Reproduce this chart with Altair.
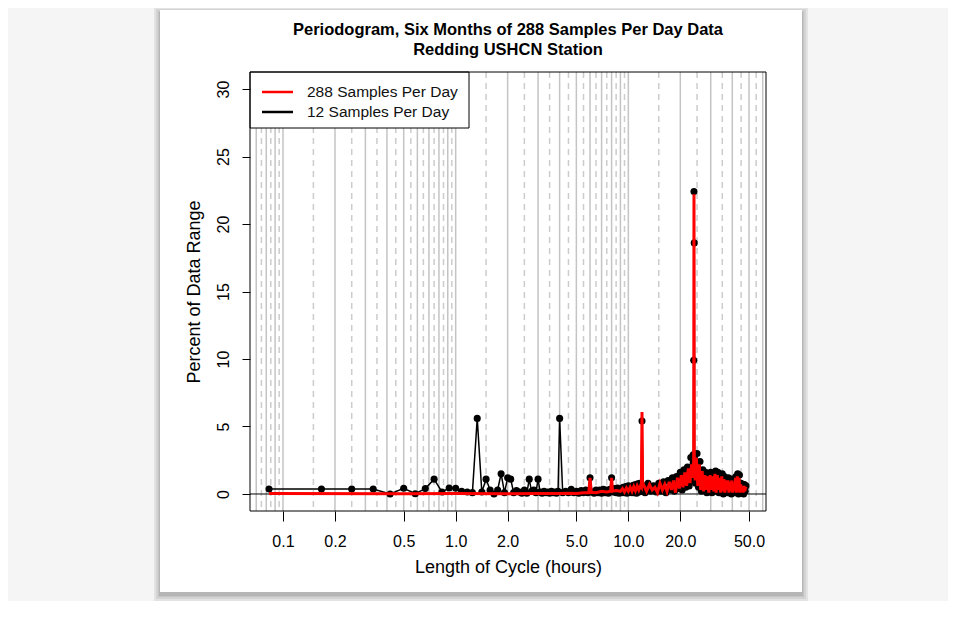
import altair as alt
import pandas as pd

# ---- data ----
series_names = ["288 Samples Per Day", "12 Samples Per Day"]
series_colors = ["#ff0000", "#000000"]

# black series: "12 Samples Per Day" (period in hours, percent of data range)
black_period = [
    0.083, 0.167, 0.25, 0.333, 0.417, 0.5, 0.583, 0.667, 0.75, 0.833, 0.917, 1.0,
    1.083, 1.167, 1.25, 1.333, 1.417, 1.5, 1.583, 1.667, 1.75, 1.833, 1.917, 2.0,
    2.083, 2.167, 2.25, 2.333, 2.417, 2.5, 2.583, 2.667, 2.75, 2.833, 2.917, 3.0,
    3.083, 3.167, 3.25, 3.333, 3.417, 3.5, 3.583, 3.667, 3.75, 3.833, 3.917, 4.0,
    4.167, 4.333, 4.5, 4.667, 4.833, 5.0, 5.167, 5.333, 5.5, 5.667, 5.833, 6.0,
    6.167, 6.333, 6.5, 6.667, 6.833, 7.0, 7.167, 7.333, 7.5, 7.667, 7.833, 8.0,
    8.167, 8.333, 8.5, 8.667, 8.833, 9.0, 9.167, 9.333, 9.5, 9.667, 9.833, 10.0,
    10.167, 10.333, 10.5, 10.667, 10.833, 11.0, 11.167, 11.333, 11.5, 11.667, 11.833, 12.0,
    12.167, 12.5, 13.0, 13.5, 14.0, 14.5, 15.0, 15.5, 16.0, 16.5, 17.0, 17.5,
    18.0, 18.5, 19.0, 19.5, 20.0, 20.5, 21.0, 21.5, 22.0, 22.5, 23.0, 23.5,
    23.75, 23.833, 23.917, 24.0, 24.083, 24.167, 24.25, 24.5, 25.0, 25.5, 26.0, 26.5,
    27.0, 27.5, 28.0, 28.5, 29.0, 29.5, 30.0, 30.5, 31.0, 31.5, 32.0, 32.5,
    33.0, 33.5, 34.0, 34.5, 35.0, 35.5, 36.0, 36.5, 37.0, 37.5, 38.0, 38.5,
    39.0, 39.5, 40.0, 40.5, 41.0, 41.5, 42.0, 42.5, 43.0, 43.5, 44.0, 44.5,
    45.0, 45.5, 46.0, 46.5, 47.0, 47.5, 48.0,
]
black_value = [
    0.37, 0.37, 0.37, 0.37, 0.0, 0.42, 0.02, 0.4, 1.1, 0.15, 0.45, 0.42,
    0.2, 0.15, 0.1, 5.6, 0.15, 1.1, 0.3, 0.0, 0.3, 1.5, 0.1, 1.2,
    1.1, 0.1, 0.25, 0.15, 0.05, 0.3, 0.05, 1.1, 0.2, 0.3, 0.1, 1.1,
    0.15, 0.05, 0.2, 0.1, 0.15, 0.05, 0.2, 0.1, 0.15, 0.05, 0.2, 5.6,
    0.1, 0.2, 0.1, 0.35, 0.1, 0.2, 0.05, 0.25, 0.1, 0.3, 0.1, 1.2,
    0.15, 0.05, 0.3, 0.1, 0.3, 0.05, 0.35, 0.1, 0.3, 0.05, 0.35, 1.2,
    0.15, 0.4, 0.1, 0.45, 0.05, 0.4, 0.1, 0.5, 0.1, 0.55, 0.05, 0.6,
    0.15, 0.55, 0.1, 0.65, 0.1, 0.7, 0.05, 0.75, 0.15, 0.8, 0.2, 5.4,
    0.6, 0.1, 0.8, 0.2, 0.6, 0.15, 0.8, 0.2, 0.9, 0.1, 1.0, 0.3,
    1.2, 0.2, 1.3, 0.4, 1.6, 0.3, 1.8, 0.5, 2.0, 0.6, 2.7, 1.0,
    2.9, 2.5, 9.9, 22.4, 18.6, 2.9, 2.0, 0.8, 3.0, 0.5, 2.4, 0.2,
    1.8, 0.4, 1.6, 0.1, 1.5, 0.3, 1.6, 0.1, 1.5, 0.4, 1.7, 0.2,
    1.6, 0.1, 1.4, 0.3, 1.5, 0.0, 1.3, 0.3, 1.1, 0.1, 1.2, 0.4,
    1.0, 0.0, 1.1, 0.2, 0.9, 0.1, 1.3, 0.3, 1.5, 0.0, 1.4, 0.2,
    0.8, 0.1, 0.6, 0.0, 0.7, 0.2, 0.6,
]

# red series: "288 Samples Per Day"
red_period = [
    0.083, 0.5, 1.0, 2.0, 3.0, 4.0, 4.5, 5.0, 5.5, 5.9, 6.0, 6.1,
    6.5, 7.0, 7.5, 7.9, 8.0, 8.1, 8.5, 9.0, 9.25, 9.5, 9.75, 10.0,
    10.25, 10.5, 10.75, 11.0, 11.25, 11.5, 11.75, 11.9, 12.0, 12.1, 12.25, 12.75,
    13.25, 13.75, 14.25, 14.75, 15.25, 15.75, 16.25, 16.75, 17.25, 17.75, 18.25, 18.75,
    19.25, 19.75, 20.25, 20.75, 21.25, 21.75, 22.25, 22.75, 23.25, 23.6, 23.9, 24.0,
    24.1, 24.4, 24.75, 25.25, 25.75, 26.25, 26.75, 27.25, 27.75, 28.25, 28.75, 29.25,
    29.75, 30.25, 30.75, 31.25, 31.75, 32.25, 32.75, 33.25, 33.75, 34.25, 34.75, 35.25,
    35.75, 36.25, 36.75, 37.25, 37.75, 38.25, 38.75, 39.25, 39.75, 40.25, 40.75, 41.25,
    41.75, 42.25, 42.75, 43.25, 43.75, 44.25, 44.75, 45.25, 45.75, 46.25, 46.75, 47.25,
    47.75, 48.0,
]
red_value = [
    0.03, 0.02, 0.03, 0.02, 0.04, 0.03, 0.05, 0.04, 0.1, 0.1, 1.2, 0.12,
    0.1, 0.2, 0.15, 0.2, 1.2, 0.2, 0.25, 0.2, 0.4, 0.15, 0.45, 0.2,
    0.5, 0.2, 0.55, 0.25, 0.6, 0.3, 0.6, 0.5, 6.07, 0.5, 0.7, 0.2,
    0.7, 0.3, 0.5, 0.1, 0.8, 0.3, 0.7, 0.2, 0.9, 0.3, 1.0, 0.1,
    1.2, 0.4, 1.4, 0.5, 1.6, 0.6, 1.9, 0.8, 2.2, 1.2, 2.5, 22.2,
    2.6, 1.0, 2.7, 0.6, 2.2, 0.3, 1.7, 0.2, 1.4, 0.3, 1.3, 0.1,
    1.4, 0.3, 1.3, 0.2, 1.5, 0.1, 1.4, 0.3, 1.2, 0.1, 1.3, 0.2,
    1.1, 0.1, 1.0, 0.3, 1.0, 0.1, 0.9, 0.2, 1.0, 0.1, 0.8, 0.3,
    1.2, 0.1, 1.3, 0.2, 1.2, 0.1, 0.7, 0.2, 0.5, 0.1, 0.6, 0.2,
    0.5, 0.4,
]

grid_solid = [0.07, 0.08, 0.09, 0.1, 0.2, 0.3, 0.4, 0.5, 0.6, 0.7, 0.8, 0.9,
              1, 2, 3, 4, 5, 6, 7, 8, 9, 10, 20, 30, 40, 50, 60]
grid_dashed = [0.075, 0.085, 0.095, 0.15, 0.25, 0.35, 0.45, 0.55, 0.65, 0.75, 0.85, 0.95,
               1.5, 2.5, 3.5, 4.5, 5.5, 6.5, 7.5, 8.5, 9.5, 15, 25, 35, 45, 55]
x_ticks = [0.1, 0.2, 0.5, 1, 2, 5, 10, 20, 50]
y_ticks = [0, 5, 10, 15, 20, 25, 30]
title_lines = ["Periodogram, Six Months of 288 Samples Per Day Data", "Redding USHCN Station"]

# ---- tables ----
black_df = pd.DataFrame({"period": black_period, "value": black_value})
red_df = pd.DataFrame({"period": red_period, "value": red_value})
solid_df = pd.DataFrame({"period": grid_solid})
dashed_df = pd.DataFrame({"period": grid_dashed})
one_row = pd.DataFrame({"a": [0]})

FONT = "Liberation Sans"
W, H = 516, 439

xscale = alt.Scale(type="log", domain=[0.0644, 62.7], nice=False)
yscale = alt.Scale(domain=[-1.26, 31.26], nice=False)

x_axis = alt.Axis(values=x_ticks, labelExpr="format(datum.value, '.1f')", title="Length of Cycle (hours)",
                  grid=False, domain=False, tickColor="black", tickSize=10, tickWidth=1,
                  labelFont=FONT, labelFontSize=16, labelColor="black", labelPadding=12,
                  titleFont=FONT, titleFontSize=18, titleFontWeight="normal", titleColor="black",
                  titlePadding=9, labelFlush=False, labelOverlap=False, zindex=2)
y_axis = alt.Axis(values=y_ticks, title="Percent of Data Range", grid=False, domain=False,
                  tickColor="black", tickSize=8, tickWidth=1, labelAngle=-90,
                  labelAlign="center", labelBaseline="bottom",
                  labelFont=FONT, labelFontSize=16, labelColor="black", labelPadding=11,
                  titleFont=FONT, titleFontSize=18, titleFontWeight="normal", titleColor="black",
                  titlePadding=12, labelFlush=False, labelOverlap=False, zindex=2)

X = alt.X("period:Q", scale=xscale, axis=x_axis)
Y = alt.Y("value:Q", scale=yscale, axis=y_axis)

# card with soft shadow (decoration)
def card_rect(dx, opacity):
    return alt.Chart(one_row).mark_rect(color="black", opacity=opacity).encode(
        x=alt.value(-90 - dx), x2=alt.value(552 + dx),
        y=alt.value(-62 - dx + 3), y2=alt.value(520 + dx + 3))

shadows = [card_rect(d, 0.07) for d in (6, 4, 2, 1)]
card = alt.Chart(one_row).mark_rect(color="white").encode(
    x=alt.value(-90), x2=alt.value(552), y=alt.value(-62), y2=alt.value(520))

grid_s = alt.Chart(solid_df).mark_rule(color="#c4c4c4", strokeWidth=1.5).encode(
    x=alt.X("period:Q", scale=xscale, axis=x_axis))
grid_d = alt.Chart(dashed_df).mark_rule(color="#cccccc", strokeWidth=1.5, strokeDash=[6, 5]).encode(
    x=alt.X("period:Q", scale=xscale, axis=x_axis))

zero = alt.Chart(one_row).mark_rule(color="black", strokeWidth=1).encode(
    y=alt.datum(0, scale=yscale, axis=y_axis))

black_line = alt.Chart(black_df).mark_line(strokeWidth=1.5, clip=True, color="black").encode(
    x=X, y=Y, order="period:Q")
black_pts = alt.Chart(black_df).mark_point(filled=True, size=50, opacity=1, color="black", clip=True).encode(
    x=X, y=Y)
red_line = alt.Chart(red_df).mark_line(strokeWidth=3, clip=True, color="#ff0000").encode(
    x=X, y=Y, order="period:Q")

# legend box (top-left corner of the plot), one row per series
leg_box = alt.Chart(one_row).mark_rect(fill="white", stroke="black", strokeWidth=1).encode(
    x=alt.value(0), x2=alt.value(219), y=alt.value(0), y2=alt.value(56))
legend_layers = []
for name, col, ly in zip(series_names, series_colors, [20, 40]):
    row_df = pd.DataFrame({"series": [name]})
    legend_layers.append(alt.Chart(row_df).mark_rule(strokeWidth=2.5, color=col).encode(
        x=alt.value(12), x2=alt.value(43), y=alt.value(ly)))
    legend_layers.append(alt.Chart(row_df).mark_text(align="left", baseline="middle", font=FONT,
                                                     fontSize=15.5, color="#111111").encode(
        x=alt.value(57), y=alt.value(ly), text="series:N"))

# title as two centered bold lines above the plot
title_layers = []
for line, ty in zip(title_lines, [-42, -22]):
    t_df = pd.DataFrame({"text": [line]})
    title_layers.append(alt.Chart(t_df).mark_text(align="center", baseline="middle", font=FONT,
                                                  fontSize=16.5, fontWeight="bold", color="black").encode(
        x=alt.value(W / 2), y=alt.value(ty), text="text:N"))

frame = alt.Chart(one_row).mark_rect(fill=None, fillOpacity=0, stroke="black", strokeWidth=1).encode(
    x=alt.value(0), x2=alt.value(W), y=alt.value(0), y2=alt.value(H))

chart = alt.layer(*shadows, card, grid_s, grid_d, zero, black_line, black_pts, red_line,
                  leg_box, *legend_layers, *title_layers, frame).properties(
    width=W, height=H,
    autosize=alt.AutoSizeParams(type="none"),
    padding={"left": 242, "top": 64, "right": 182, "bottom": 90},
    background="#f5f5f5",
).configure_view(stroke=None)

chart.save("out.html", embed_options={"renderer": "svg", "actions": False})
